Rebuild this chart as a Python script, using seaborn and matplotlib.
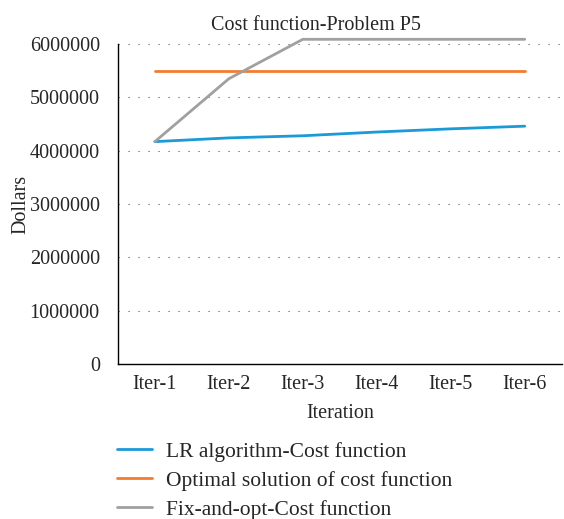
import matplotlib
matplotlib.use("Agg")
import matplotlib.pyplot as plt
import seaborn as sns
import pandas as pd

iterations = ["Iter-1", "Iter-2", "Iter-3", "Iter-4", "Iter-5", "Iter-6"]
lr_cost = [4170000, 4240000, 4280000, 4350000, 4410000, 4460000]
optimal_cost = [5500000, 5500000, 5500000, 5500000, 5500000, 5500000]
fixopt_cost = [4170000, 5350000, 6090000, 6090000, 6090000, 6090000]
series_names = ["LR algorithm-Cost function", "Optimal solution of cost function", "Fix-and-opt-Cost function"]
colors = ["#1b9ad8", "#f47c30", "#a0a0a0"]
yticks = [0, 1000000, 2000000, 3000000, 4000000, 5000000, 6000000]

rows = []
for name, vals in zip(series_names, [lr_cost, optimal_cost, fixopt_cost]):
    for i, (it, v) in enumerate(zip(iterations, vals)):
        rows.append({"Iteration": it, "idx": i, "Dollars": v, "Series": name})
df = pd.DataFrame(rows)

sns.set_style("white")
plt.rcParams["font.family"] = ["Liberation Serif", "DejaVu Serif"]

fig = plt.figure(figsize=(5.64, 5.19), dpi=100)
ax = fig.add_axes([0.209, 0.299, 0.787, 0.616])

sns.lineplot(data=df, x="idx", y="Dollars", hue="Series", palette=colors,
             hue_order=series_names, linewidth=2.0, ax=ax, legend=False)
for ln in ax.get_lines():
    ln.set_clip_on(False)

ax.set_xlim(-0.5, 5.5)
ax.set_ylim(0, 6000000)
ax.set_xticks(range(len(iterations)))
ax.set_xticklabels(iterations, fontsize=14.5)
ax.set_yticks(yticks)
ax.set_yticklabels([str(v) for v in yticks], fontsize=14.5)
ax.tick_params(axis="y", length=0, pad=13)
ax.tick_params(axis="x", length=0, pad=8)
ax.yaxis.grid(True, linestyle=(0, (1, 8)), color="#555555", linewidth=0.8)
ax.xaxis.grid(False)
for s in ["top", "right"]:
    ax.spines[s].set_visible(False)
for s in ["left", "bottom"]:
    ax.spines[s].set_color("black")
    ax.spines[s].set_linewidth(1.0)

ax.set_xlabel("Iteration", fontsize=14.5, labelpad=7)
ax.set_ylabel("Dollars", fontsize=14.5)
ax.yaxis.set_label_coords(-0.198, 0.5)
ax.set_title("Cost function-Problem P5", fontsize=14.5, x=0.446, pad=10)

from matplotlib.lines import Line2D
handles = [Line2D([0], [0], color=c, linewidth=2.0) for c in colors]
fig.legend(handles, series_names, loc="upper left", bbox_to_anchor=(0.192, 0.166),
           frameon=False, fontsize=15.5, handlelength=1.65, handletextpad=0.65,
           labelspacing=0.42, borderaxespad=0)

fig.savefig("out.png", dpi=100)
